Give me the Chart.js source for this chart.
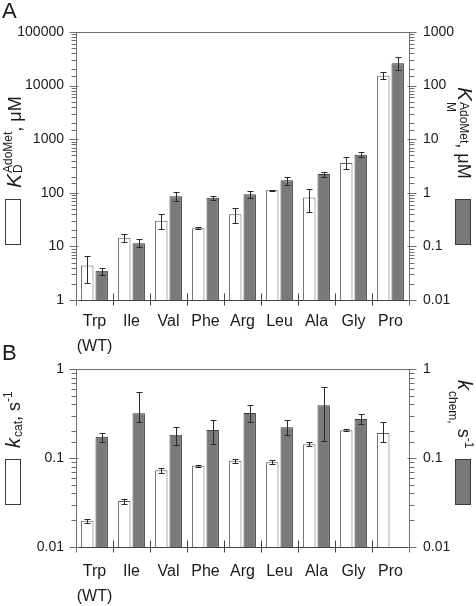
<!DOCTYPE html>
<html>
<head>
<meta charset="utf-8">
<script src="https://cdn.jsdelivr.net/npm/chart.js@4.4.1/dist/chart.umd.min.js"></script>
<style>
html, body { margin: 0; padding: 0; background: #fff; }
#wrap { position: relative; width: 476px; height: 606px; overflow: hidden; }
canvas { position: absolute; left: 0; }
#chartA { top: 0; }
#chartB { top: 330px; }
</style>
</head>
<body>
<div id="wrap">
    <canvas id="chartA" width="476" height="362"></canvas>
    <canvas id="chartB" width="476" height="276"></canvas>
</div>
<script>
// categories (mutants)
const categories = [['Trp', '(WT)'], 'Ile', 'Val', 'Phe', 'Arg', 'Leu', 'Ala', 'Gly', 'Pro'];

// panel A: KD (left axis, uM) and KM (right axis, uM)
const kdValues = [4.4, 14.5, 30, 21.7, 40, 111, 82, 360, 15300];
const kdLow    = [2.1, 11.9, 20.8, 20.8, 27.6, 108, 44, 278, 13300];
const kdHigh   = [6.6, 16.8, 39.6, 22.7, 51, 114, 119, 459, 17900];
const kmValues = [0.035, 0.114, 0.86, 0.81, 0.94, 1.71, 2.25, 5.15, 260];
const kmLow    = [0.029, 0.099, 0.69, 0.73, 0.80, 1.38, 2.0, 4.59, 196];
const kmHigh   = [0.040, 0.135, 1.02, 0.87, 1.10, 1.95, 2.48, 5.69, 347];

// panel B: kcat (left) and kchem (right), s^-1
const kcatValues = [0.0197, 0.0328, 0.073, 0.0817, 0.093, 0.0898, 0.143, 0.205, 0.191];
const kcatLow    = [0.0186, 0.0304, 0.0675, 0.080, 0.0875, 0.086, 0.135, 0.199, 0.152];
const kcatHigh   = [0.0206, 0.0349, 0.0775, 0.083, 0.0975, 0.094, 0.152, 0.211, 0.252];
const kchemValues = [0.173, 0.318, 0.182, 0.207, 0.321, 0.222, 0.392, 0.275, null];
const kchemLow    = [0.150, 0.255, 0.139, 0.143, 0.252, 0.179, 0.155, 0.240, null];
const kchemHigh   = [0.191, 0.552, 0.222, 0.268, 0.395, 0.268, 0.623, 0.316, null];

const FONT = "'Liberation Sans', Arial, sans-serif";
const INK = '#1a1a1a';
const LINE = '#6e6e6e';

function isPow10(v) {
    const l = Math.log10(v);
    return Math.abs(l - Math.round(l)) < 1e-6;
}
function fmtPow(v) {
    const e = Math.round(Math.log10(v));
    return e < 0 ? Math.pow(10, e).toFixed(-e) : String(Math.pow(10, e));
}

// draws a rotated run of text pieces (sub/superscripts stacked)
function drawRich(ctx, x, y, angle, parts) {
    ctx.save();
    ctx.translate(x, y);
    ctx.rotate(angle);
    ctx.fillStyle = INK;
    ctx.textBaseline = 'alphabetic';
    ctx.textAlign = 'left';
    let pos = 0;
    parts.forEach(p => {
        if (p.stack) {
            let w = 0;
            p.stack.forEach(s => {
                ctx.font = s.font;
                ctx.fillText(s.t, pos, s.dy || 0);
                w = Math.max(w, ctx.measureText(s.t).width);
            });
            pos += w;
        } else {
            ctx.font = p.font;
            ctx.fillText(p.t, pos, p.dy || 0);
            pos += ctx.measureText(p.t).width + (p.gap || 0);
        }
    });
    ctx.restore();
}

const panelDecor = {
    id: 'panelDecor',
    afterDatasetsDraw(chart, args, opts) {
        const ctx = chart.ctx;
        const a = chart.chartArea;
        ctx.save();

        // error bars
        chart.data.datasets.forEach((ds, i) => {
            const meta = chart.getDatasetMeta(i);
            const sc = chart.scales[meta.yAxisID];
            meta.data.forEach((bar, j) => {
                if (ds.data[j] == null) return;
                const y1 = Math.round(sc.getPixelForValue(ds.errLow[j])) + 0.5;
                const y2 = Math.round(sc.getPixelForValue(ds.errHigh[j])) + 0.5;
                const bx = Math.round(bar.x) + 0.5;
                ctx.strokeStyle = '#2a2a2a';
                ctx.lineWidth = 1;
                ctx.beginPath();
                ctx.moveTo(bx, y1); ctx.lineTo(bx, y2);
                ctx.moveTo(bx - 3, y1); ctx.lineTo(bx + 3, y1);
                ctx.moveTo(bx - 3, y2); ctx.lineTo(bx + 3, y2);
                ctx.stroke();
            });
        });

        // frame
        const L = Math.round(a.left) + 0.5, R = Math.round(a.right) + 0.5;
        const T = Math.round(a.top) + 0.5, B = Math.round(a.bottom) + 0.5;
        ctx.lineWidth = 1;
        ctx.strokeStyle = LINE;
        ctx.beginPath();
        ctx.moveTo(L, T); ctx.lineTo(R, T);
        ctx.moveTo(L, T); ctx.lineTo(L, B + 5);
        ctx.moveTo(R, T); ctx.lineTo(R, B + 5);
        ctx.stroke();
        ctx.strokeStyle = '#444';
        ctx.beginPath();
        ctx.moveTo(L, B); ctx.lineTo(R, B);
        // category separators
        const n = categories.length;
        for (let k = 1; k < n; k++) {
            const cx = Math.round(a.left + k * (a.right - a.left) / n) + 0.5;
            ctx.moveTo(cx, B - 7); ctx.lineTo(cx, B + 5);
        }
        ctx.stroke();

        // y tick marks
        ctx.strokeStyle = LINE;
        ctx.beginPath();
        chart.scales.y.ticks.forEach(t => {
            const p = Math.round(chart.scales.y.getPixelForValue(t.value)) + 0.5;
            if (isPow10(t.value)) { ctx.moveTo(L - 7, p); ctx.lineTo(L + 2, p); }
            else { ctx.moveTo(L - 5, p); ctx.lineTo(L, p); }
        });
        chart.scales.y2.ticks.forEach(t => {
            const p = Math.round(chart.scales.y2.getPixelForValue(t.value)) + 0.5;
            if (isPow10(t.value)) { ctx.moveTo(R - 2, p); ctx.lineTo(R + 7, p); }
            else { ctx.moveTo(R, p); ctx.lineTo(R + 5, p); }
        });
        ctx.stroke();

        // panel letter
        ctx.fillStyle = INK;
        ctx.font = '22px ' + FONT;
        ctx.textAlign = 'left';
        ctx.textBaseline = 'alphabetic';
        ctx.fillText(opts.letter, 2, opts.letterY);

        // axis titles
        drawRich(ctx, opts.left.x, opts.left.y, -Math.PI / 2, opts.left.parts);
        drawRich(ctx, opts.right.x, opts.right.y, Math.PI / 2, opts.right.parts);

        // legend boxes
        opts.boxes.forEach(b => {
            ctx.fillStyle = b.fill;
            ctx.fillRect(b.x, b.y, b.w, b.h);
            ctx.strokeStyle = b.stroke;
            ctx.strokeRect(b.x + 0.5, b.y + 0.5, b.w - 1, b.h - 1);
        });
        ctx.restore();
    }
};

function makeChart(canvasId, cfg) {
    const ctx = document.getElementById(canvasId).getContext('2d');
    const yTicks = (pad) => ({
        autoSkip: false,
        padding: pad,
        color: INK,
        font: { family: FONT, size: 14 },
        callback: v => isPow10(v) ? fmtPow(v) : ''
    });
    return new Chart(ctx, {
        type: 'bar',
        data: {
            labels: categories,
            datasets: [
                {
                    label: cfg.leftName,
                    data: cfg.leftData,
                    errLow: cfg.leftLow,
                    errHigh: cfg.leftHigh,
                    yAxisID: 'y',
                    backgroundColor: '#ffffff',
                    borderColor: '#5e5e5e',
                    borderWidth: 1,
                    categoryPercentage: 0.78,
                    barPercentage: 0.86
                },
                {
                    label: cfg.rightName,
                    data: cfg.rightData,
                    errLow: cfg.rightLow,
                    errHigh: cfg.rightHigh,
                    yAxisID: 'y2',
                    backgroundColor: '#7a7a7a',
                    borderColor: '#3a3a3a',
                    borderWidth: 1,
                    categoryPercentage: 0.78,
                    barPercentage: 0.86
                }
            ]
        },
        options: {
            responsive: false,
            animation: false,
            layout: { padding: { top: cfg.top, left: 0, right: 0, bottom: 0 } },
            scales: {
                x: {
                    grid: { display: false, drawTicks: false },
                    border: { display: false },
                    ticks: {
                        autoSkip: false,
                        maxRotation: 0,
                        padding: cfg.xPad,
                        color: INK,
                        font: { family: FONT, size: 16, lineHeight: 1.55 }
                    },
                    afterFit: s => { s.height = cfg.xHeight; }
                },
                y: {
                    type: 'logarithmic',
                    position: 'left',
                    min: cfg.leftMin,
                    max: cfg.leftMax,
                    grid: { display: false, drawTicks: false },
                    border: { display: false },
                    ticks: yTicks(12),
                    afterFit: s => { s.width = 76; }
                },
                y2: {
                    type: 'logarithmic',
                    position: 'right',
                    min: cfg.rightMin,
                    max: cfg.rightMax,
                    grid: { display: false, drawTicks: false },
                    border: { display: false },
                    ticks: yTicks(14),
                    afterFit: s => { s.width = 67; }
                }
            },
            plugins: {
                legend: { display: false },
                tooltip: { enabled: false },
                panelDecor: cfg.decor
            }
        },
        plugins: [panelDecor]
    });
}

const it = (s) => 'italic ' + s + 'px ' + FONT;
const rg = (s) => s + 'px ' + FONT;

makeChart('chartA', {
    leftName: 'KD AdoMet', leftData: kdValues, leftLow: kdLow, leftHigh: kdHigh,
    rightName: 'KM AdoMet', rightData: kmValues, rightLow: kmLow, rightHigh: kmHigh,
    leftMin: 1, leftMax: 100000, rightMin: 0.01, rightMax: 1000,
    top: 32, xHeight: 62, xPad: 9,
    decor: {
        letter: 'A', letterY: 18,
        left: { x: 21, y: 188, parts: [
            { t: 'K', font: it(21), gap: 1 },
            { stack: [{ t: 'D', font: rg(12), dy: 1 }, { t: 'AdoMet', font: rg(12), dy: -9 }] },
            { t: ', μM', font: rg(18) }
        ] },
        right: { x: 458, y: 87, parts: [
            { t: 'K', font: it(21), gap: 1 },
            { stack: [{ t: 'M', font: rg(12), dy: 11 }, { t: 'AdoMet', font: rg(12), dy: -2 }] },
            { t: ', μM', font: rg(18) }
        ] },
        boxes: [
            { x: 5, y: 199, w: 16, h: 46, fill: '#ffffff', stroke: '#3a3a3a' },
            { x: 455, y: 199, w: 16, h: 46, fill: '#7a7a7a', stroke: '#3a3a3a' }
        ]
    }
});

makeChart('chartB', {
    leftName: 'kcat', leftData: kcatValues, leftLow: kcatLow, leftHigh: kcatHigh,
    rightName: 'kchem', rightData: kchemValues, rightLow: kchemLow, rightHigh: kchemHigh,
    leftMin: 0.01, leftMax: 1, rightMin: 0.01, rightMax: 1,
    top: 39, xHeight: 59, xPad: 12,
    decor: {
        letter: 'B', letterY: 30,
        left: { x: 20, y: 118, parts: [
            { t: 'k', font: it(20), gap: 1 },
            { stack: [{ t: 'cat', font: rg(12), dy: 2 }] },
            { t: ', s', font: rg(18) },
            { stack: [{ t: '-1', font: rg(12), dy: -8 }] }
        ] },
        right: { x: 458, y: 50, parts: [
            { t: 'k', font: it(20), gap: 1 },
            { stack: [{ t: 'chem,', font: rg(12), dy: 9 }] },
            { t: ' s', font: rg(18) },
            { stack: [{ t: '-1', font: rg(12), dy: -7 }] }
        ] },
        boxes: [
            { x: 5, y: 129, w: 16, h: 46, fill: '#ffffff', stroke: '#3a3a3a' },
            { x: 455, y: 129, w: 16, h: 46, fill: '#7a7a7a', stroke: '#3a3a3a' }
        ]
    }
});
</script>
</body>
</html>
